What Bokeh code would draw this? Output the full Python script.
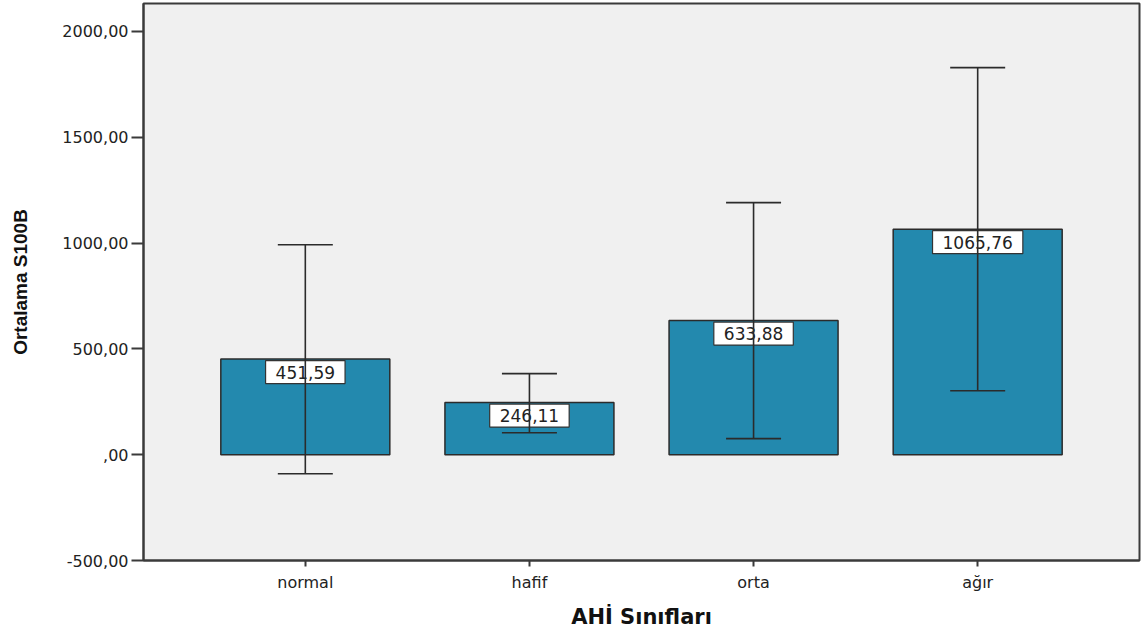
from bokeh.plotting import figure
from bokeh.models import ColumnDataSource, Whisker, TeeHead, FixedTicker, Range1d
from bokeh.core.properties import value
from bokeh.embed import file_html
from bokeh.resources import INLINE

categories = ["normal", "hafif", "orta", "ağır"]
means = [451.59, 246.11, 633.88, 1065.76]
err_upper = [992, 383, 1191, 1829]
err_lower = [-90, 104, 76, 302]
y_ticks = [-500, 0, 500, 1000, 1500, 2000]
y_tick_labels = ["-500,00", ",00", "500,00", "1000,00", "1500,00", "2000,00"]
x_title = "AHİ Sınıfları"
y_title = "Ortalama S100B"

xs = list(range(len(categories)))
labels = [f"{m:.2f}".replace(".", ",") for m in means]

src = ColumnDataSource(dict(x=xs, top=means, upper=err_upper, lower=err_lower, label=labels))

p = figure(width=1148, height=631, output_backend="svg", toolbar_location=None,
           x_range=Range1d(-0.722, 3.722), y_range=Range1d(-500, 2132),
           min_border_left=143, min_border_right=9, min_border_top=3, min_border_bottom=69)
p.background_fill_color = "#F0F0F0"
p.border_fill_color = "white"
p.outline_line_color = "#3a3a3a"
p.outline_line_width = 2
p.grid.visible = False

p.vbar(x="x", top="top", bottom=0, width=0.754, source=src,
       fill_color="#2389AE", line_color="#2b2b2b", line_width=1.5)

p.text(x="x", y="top", text="label", source=src, text_align="center",
       text_baseline="middle", y_offset=13, text_font=value("DejaVu Sans"),
       text_font_size="17px", text_color="#222222",
       background_fill_color="white", border_line_color="#333333",
       border_line_width=1.2, padding=(10, 5))

w = Whisker(base="x", upper="upper", lower="lower", source=src,
            line_color="#2b2b2b", line_width=1.6, level="overlay",
            upper_head=TeeHead(size=55, line_color="#2b2b2b", line_width=1.6),
            lower_head=TeeHead(size=55, line_color="#2b2b2b", line_width=1.6))
p.add_layout(w)

# x axis
p.xaxis.ticker = FixedTicker(ticks=xs)
p.xaxis.major_label_overrides = {i: c for i, c in zip(xs, categories)}
p.xaxis.major_tick_out = 6
p.xaxis.major_tick_in = 0
p.xaxis.minor_tick_line_color = None
p.xaxis.major_label_standoff = 6
p.xaxis.major_label_text_font = "DejaVu Sans"
p.xaxis.major_label_text_font_size = "16px"
p.xaxis.major_label_text_color = "#222222"
p.xaxis.axis_label = x_title
p.xaxis.axis_label_text_font = "DejaVu Sans"
p.xaxis.axis_label_text_font_style = "bold"
p.xaxis.axis_label_text_font_size = "21px"
p.xaxis.axis_label_text_color = "#111111"
p.xaxis.axis_label_standoff = 10
p.xaxis.axis_line_color = "#3a3a3a"
p.xaxis.axis_line_width = 2
p.xaxis.major_tick_line_color = "#3a3a3a"
p.xaxis.major_tick_line_width = 2

# y axis
p.yaxis.ticker = FixedTicker(ticks=y_ticks)
p.yaxis.major_label_overrides = {t: l for t, l in zip(y_ticks, y_tick_labels)}
p.yaxis.major_tick_out = 12
p.yaxis.major_tick_in = 0
p.yaxis.minor_tick_line_color = None
p.yaxis.major_label_standoff = 3
p.yaxis.major_label_text_font = "DejaVu Sans"
p.yaxis.major_label_text_font_size = "16px"
p.yaxis.major_label_text_color = "#222222"
p.yaxis.axis_label = y_title
p.yaxis.axis_label_text_font = "Liberation Sans"
p.yaxis.axis_label_text_font_style = "bold"
p.yaxis.axis_label_text_font_size = "19px"
p.yaxis.axis_label_text_color = "#111111"
p.yaxis.axis_label_standoff = 28
p.yaxis.axis_line_color = "#3a3a3a"
p.yaxis.axis_line_width = 2
p.yaxis.major_tick_line_color = "#3a3a3a"
p.yaxis.major_tick_line_width = 2

open("out.html", "w").write(file_html(p, INLINE))
